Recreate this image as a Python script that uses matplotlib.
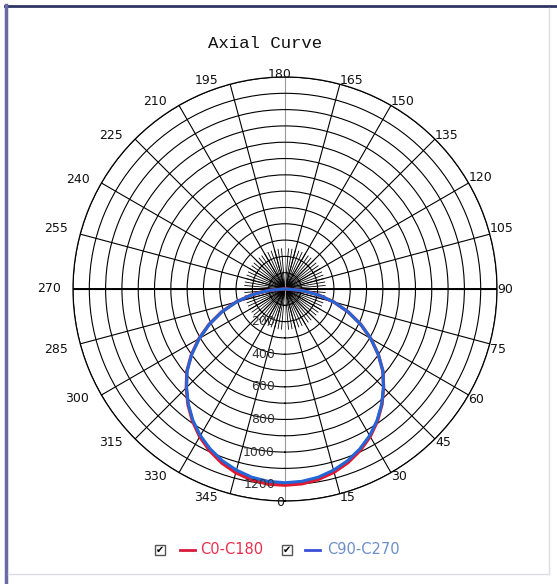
import numpy as np
import matplotlib
matplotlib.use("Agg")
import matplotlib.pyplot as plt
from matplotlib.lines import Line2D
from matplotlib.patches import Rectangle
from matplotlib.transforms import offset_copy

# ---- data ----
angles_deg = [-90, -85, -80, -75, -70, -65, -60, -55, -50, -45, -40, -35, -30, -25, -20, -15, -10, -5,
              0, 5, 10, 15, 20, 25, 30, 35, 40, 45, 50, 55, 60, 65, 70, 75, 80, 85, 90]
c0_c180 = [10, 102, 208, 312, 415, 514, 609, 700, 786, 856, 926, 989, 1046, 1094, 1135, 1166, 1188, 1201,
           1203, 1199, 1185, 1163, 1132, 1092, 1045, 988, 925, 855, 784, 698, 607, 512, 413, 311, 208, 102, 10]
c90_c270 = [10, 101, 207, 311, 413, 512, 607, 698, 784, 854, 922, 984, 1038, 1083, 1121, 1150, 1172, 1184,
            1188, 1184, 1172, 1150, 1121, 1083, 1038, 984, 922, 854, 784, 698, 607, 512, 413, 311, 207, 101, 10]
angle_labels = [0, 15, 30, 45, 60, 75, 90, 105, 120, 135, 150, 165, 180, 195, 210, 225, 240, 255, 270,
                285, 300, 315, 330, 345]
ring_values = [100, 200, 300, 400, 500, 600, 700, 800, 900, 1000, 1100, 1200, 1300]
ring_labels = [200, 400, 600, 800, 1000, 1200]
r_max = 1300
series_names = ["C0-C180", "C90-C270"]

W, H = 557, 584
fig = plt.figure(figsize=(W / 100, H / 100), dpi=100)
fig.patch.set_facecolor("white")

cx, cy, R = 285, 289, 212
ax = fig.add_axes([(cx - R) / W, (H - cy - R) / H, 2 * R / W, 2 * R / H], projection="polar")
ax.set_theta_zero_location("S")
ax.set_theta_direction(1)
ax.set_ylim(0, r_max)
ax.set_facecolor("white")

# rings via library grid
ax.set_yticks(ring_values)
ax.set_yticklabels([])
ax.set_xticks([])
ax.yaxis.grid(True, color="black", linewidth=0.8)
ax.xaxis.grid(False)
ax.spines["polar"].set_color("black")
ax.spines["polar"].set_linewidth(0.9)
ax.tick_params(length=0)

# spokes
spoke_deg = [a for a in angle_labels if a not in (0, 180)]
ax.vlines(np.deg2rad(spoke_deg), 0, r_max, colors="black", linewidth=0.8, zorder=1)
inner = np.arange(0, 360, 5)
ax.vlines(np.deg2rad(inner), 0, 250, colors="black", linewidth=0.6, zorder=1)
ax.vlines(np.deg2rad([90, 270]), 0, r_max, colors="black", linewidth=1.4, zorder=1)
ax.vlines(np.deg2rad([0, 180]), 0, r_max, colors="#9a9a9a", linewidth=0.8, zorder=1)

# curves
th = np.deg2rad(angles_deg)
ax.plot(th, c0_c180, color="#e5172f", linewidth=2.4, zorder=3)
ax.plot(th, c90_c270, color="#2266d8", linewidth=2.2, zorder=4)

# angle labels
for a in angle_labels:
    t = np.deg2rad(a)
    s, c = np.sin(t), np.cos(t)
    if s > 0.01:
        ha, dx = "left", 0
    elif s < -0.01:
        ha, dx = "right", -12
    else:
        ha, dx = "center", -5
    if abs(c) < 0.01:
        dy_down = 0
    elif abs(c) < 0.5:
        dy_down = 6 * np.sign(c)
    elif abs(c) > 0.99:
        dy_down = 2 if c > 0 else -3
    else:
        dy_down = 4 * np.sign(c)
    tr = offset_copy(ax.transData, fig=fig, x=dx, y=-dy_down, units="dots")
    ax.text(t, r_max, str(a), transform=tr, ha=ha, va="center", fontsize=9,
            color="#111111", clip_on=False, zorder=5)

# ring labels
for rv in ring_labels:
    tr = offset_copy(ax.transData, fig=fig, x=-10, y=0, units="dots")
    ax.text(0, rv, str(rv), transform=tr, ha="right", va="center", fontsize=9,
            color="#333333", zorder=5)

# title
fig.text(265 / W, 1 - 44 / H, "Axial Curve", family="Liberation Mono", fontsize=12.5,
         ha="center", va="center", color="#111111")

# legend
ly = 1 - 550 / H
def checkbox(x0):
    fig.patches.append(Rectangle((x0 / W, ly - 5 / H), 10 / W, 10 / H, transform=fig.transFigure,
                                 facecolor="white", edgecolor="#555555", linewidth=1.0))
    fig.text((x0 + 5) / W, ly, "\u2714", fontsize=7, ha="center", va="center", color="black")

checkbox(155)
fig.add_artist(Line2D([180 / W, 195 / W], [ly, ly], color="#d81b3c", linewidth=2, transform=fig.transFigure))
fig.text(200 / W, ly, series_names[0], fontsize=10.5, ha="left", va="center", color="#e8304e")
checkbox(282)
fig.add_artist(Line2D([305 / W, 320 / W], [ly, ly], color="#3a4fd8", linewidth=2, transform=fig.transFigure))
fig.text(327 / W, ly, series_names[1], fontsize=10.5, ha="left", va="center", color="#6b8fc8")

# frame
fig.add_artist(Line2D([5 / W, 1], [1 - 6 / H, 1 - 6 / H], color="#2f3466", linewidth=2, transform=fig.transFigure))
fig.add_artist(Line2D([6 / W, 6 / W], [0, 1 - 5 / H], color="#6a6aa6", linewidth=2.5, transform=fig.transFigure))
fig.add_artist(Line2D([549 / W, 549 / W], [1 - 574 / H, 1 - 8 / H], color="#dcdce4", linewidth=1, transform=fig.transFigure))
fig.add_artist(Line2D([8 / W, 549 / W], [1 - 574 / H, 1 - 574 / H], color="#dcdce4", linewidth=1, transform=fig.transFigure))

fig.savefig("out.png", dpi=100, facecolor="white")
